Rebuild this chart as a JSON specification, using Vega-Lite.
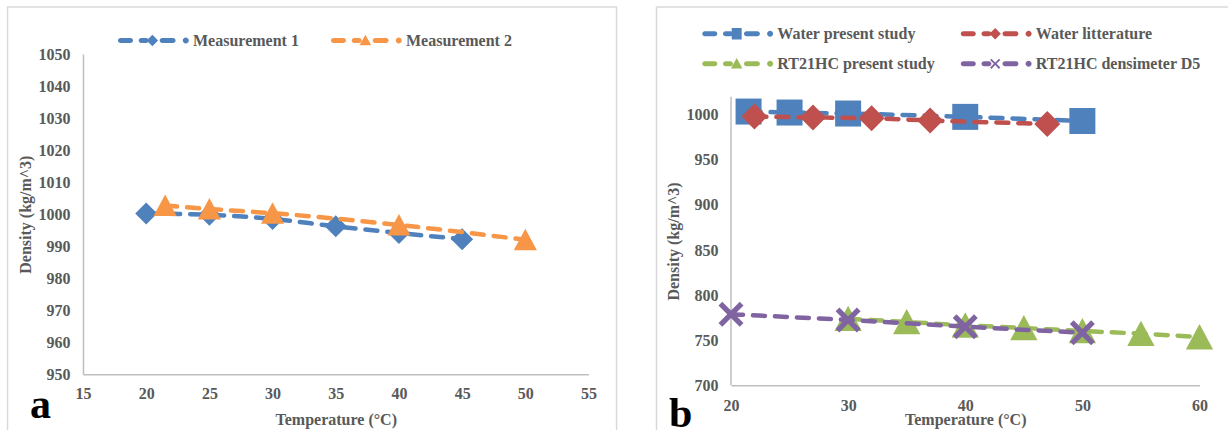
{
  "$schema": "https://vega.github.io/schema/vega-lite/v6.json",
  "background": "white",
  "padding": {"left": 6, "top": 6, "right": 0, "bottom": 0},
  "spacing": 37,
  "datasets": {
    "left": [
      {"series": "Measurement 1", "t": 20, "d": 1000.2},
      {"series": "Measurement 1", "t": 25, "d": 999.8},
      {"series": "Measurement 1", "t": 30, "d": 998.5},
      {"series": "Measurement 1", "t": 35, "d": 996.2},
      {"series": "Measurement 1", "t": 40, "d": 994.1},
      {"series": "Measurement 1", "t": 45, "d": 992.2},
      {"series": "Measurement 2", "t": 21.5, "d": 1002.7},
      {"series": "Measurement 2", "t": 25, "d": 1001.6},
      {"series": "Measurement 2", "t": 30, "d": 1000.3},
      {"series": "Measurement 2", "t": 40, "d": 996.6},
      {"series": "Measurement 2", "t": 50, "d": 992.0}
    ],
    "right": [
      {"series": "Water present study", "t": 21.5, "d": 1003.5},
      {"series": "Water present study", "t": 25, "d": 1002.4},
      {"series": "Water present study", "t": 30, "d": 1001.3},
      {"series": "Water present study", "t": 40, "d": 997.6},
      {"series": "Water present study", "t": 50, "d": 993.0},
      {"series": "Water litterature", "t": 22, "d": 998.0},
      {"series": "Water litterature", "t": 27, "d": 997.0},
      {"series": "Water litterature", "t": 32, "d": 996.0},
      {"series": "Water litterature", "t": 37, "d": 993.6},
      {"series": "Water litterature", "t": 47, "d": 989.8},
      {"series": "RT21HC present study", "t": 30, "d": 773.8},
      {"series": "RT21HC present study", "t": 35, "d": 770.2},
      {"series": "RT21HC present study", "t": 40, "d": 766.5},
      {"series": "RT21HC present study", "t": 45, "d": 763.5},
      {"series": "RT21HC present study", "t": 50, "d": 760.2},
      {"series": "RT21HC present study", "t": 55, "d": 757.2},
      {"series": "RT21HC present study", "t": 60, "d": 753.5},
      {"series": "RT21HC densimeter D5", "t": 20, "d": 778.7},
      {"series": "RT21HC densimeter D5", "t": 30, "d": 772.4},
      {"series": "RT21HC densimeter D5", "t": 40, "d": 765.0},
      {"series": "RT21HC densimeter D5", "t": 50, "d": 758.3}
    ]
  },
  "hconcat": [
    {
      "width": 505.5,
      "height": 320.3,
      "data": {"name": "left"},
      "encoding": {
        "x": {"field": "t", "type": "quantitative", "scale": {"domain": [15, 55], "nice": false, "zero": false},
              "axis": {"values": [15, 20, 25, 30, 35, 40, 45, 50, 55], "title": "Temperature (°C)", "labelPadding": 11, "titlePadding": 10}},
        "y": {"field": "d", "type": "quantitative", "scale": {"domain": [950, 1050], "nice": false, "zero": false},
              "axis": {"values": [950, 960, 970, 980, 990, 1000, 1010, 1020, 1030, 1040, 1050], "format": "d", "title": "Density (kg/m^3)", "labelPadding": 13, "titlePadding": 5}}
      },
      "layer": [
        {
          "transform": [{"aggregate": [{"op": "min", "field": "t", "as": "t"}, {"op": "min", "field": "d", "as": "d"}]}],
          "mark": {"type": "rect", "filled": false, "color": "#d9d9d9", "strokeWidth": 1.5},
          "encoding": {"x": {"datum": 9.03}, "x2": {"datum": 57.22}, "y": {"datum": 1064.67}, "y2": {"datum": 929.5}}
        },
        {
          "transform": [{"aggregate": [{"op": "min", "field": "t", "as": "t"}, {"op": "min", "field": "d", "as": "d"}]}],
          "mark": {"type": "text", "text": "a", "font": "Liberation Serif", "fontSize": 42, "fontWeight": "bold", "color": "black", "align": "center", "baseline": "alphabetic"},
          "encoding": {"x": {"datum": 11.64}, "y": {"datum": 936.26}}
        },
        {
          "transform": [{"filter": "false"}],
          "mark": {"type": "point", "filled": true, "opacity": 1},
          "encoding": {
            "color": {"field": "series", "type": "nominal",
              "scale": {"domain": ["Measurement 1", "Measurement 2"], "range": ["#4F81BD", "#F79646"]},
              "legend": {"title": null, "orient": "none", "legendX": 33, "legendY": -21.5, "direction": "horizontal", "columns": 2, "columnPadding": 30, "labelOffset": 61, "symbolSize": 144, "symbolStrokeWidth": 0, "symbolOpacity": 1, "padding": 0, "labelLimit": 0}},
            "shape": {"field": "series", "type": "nominal",
              "scale": {"domain": ["Measurement 1", "Measurement 2"], "range": [
                "M-0.58,-0.42H1.08A0.42,0.42,0,0,1,1.08,0.42H-0.58A0.42,0.42,0,0,1,-0.58,-0.42ZM2.87,-0.42H3.68A0.42,0.42,0,0,1,3.68,0.42H2.87A0.42,0.42,0,0,1,2.87,-0.42ZM6.37,-0.42H8.18A0.42,0.42,0,0,1,8.18,0.42H6.37A0.42,0.42,0,0,1,6.37,-0.42ZM9.8,0A0.5,0.5,0,1,1,10.8,0A0.5,0.5,0,1,1,9.8,0ZM4.73,-0.95L5.68,0L4.73,0.95L3.78,0Z",
                "M-0.58,-0.42H1.08A0.42,0.42,0,0,1,1.08,0.42H-0.58A0.42,0.42,0,0,1,-0.58,-0.42ZM2.87,-0.42H3.68A0.42,0.42,0,0,1,3.68,0.42H2.87A0.42,0.42,0,0,1,2.87,-0.42ZM6.37,-0.42H8.18A0.42,0.42,0,0,1,8.18,0.42H6.37A0.42,0.42,0,0,1,6.37,-0.42ZM9.8,0A0.5,0.5,0,1,1,10.8,0A0.5,0.5,0,1,1,9.8,0ZM4.73,-0.95L5.7,0.8L3.76,0.8Z"]},
              "legend": {"title": null, "orient": "none", "legendX": 33, "legendY": -21.5, "direction": "horizontal", "columns": 2, "columnPadding": 30, "labelOffset": 61, "symbolSize": 144, "symbolStrokeWidth": 0, "symbolOpacity": 1, "padding": 0, "labelLimit": 0}}
          }
        },
        {
          "transform": [{"filter": "datum.series === 'Measurement 1'"}],
          "layer": [
            {"mark": {"type": "line", "color": "#4F81BD", "strokeWidth": 4.5, "strokeDash": [12, 10], "strokeCap": "round", "interpolate": "monotone"}},
            {"mark": {"type": "point", "shape": "diamond", "filled": true, "color": "#4F81BD", "size": 484, "opacity": 1}}
          ]
        },
        {
          "transform": [{"filter": "datum.series === 'Measurement 2'"}],
          "layer": [
            {"mark": {"type": "line", "color": "#F79646", "strokeWidth": 4.5, "strokeDash": [12, 10], "strokeCap": "round", "interpolate": "monotone"}},
            {"mark": {"type": "point", "shape": "M0,-1L1.05,0.95L-1.05,0.95Z", "filled": true, "color": "#F79646", "size": 484, "opacity": 1}}
          ]
        }
      ]
    },
    {
      "width": 468.5,
      "height": 331.3,
      "data": {"name": "right"},
      "encoding": {
        "x": {"field": "t", "type": "quantitative", "scale": {"domain": [20, 60], "nice": false, "zero": false},
              "axis": {"values": [20, 30, 40, 50, 60], "title": "Temperature (°C)", "labelPadding": 12, "titlePadding": -2}},
        "y": {"field": "d", "type": "quantitative", "scale": {"domain": [700, 1067.3], "nice": false, "zero": false},
              "axis": {"values": [700, 750, 800, 850, 900, 950, 1000], "format": "d", "domain": false, "title": "Density (kg/m^3)", "titleY": 187, "labelPadding": 13, "titlePadding": 5}}
      },
      "layer": [
        {
          "transform": [{"aggregate": [{"op": "min", "field": "t", "as": "t"}, {"op": "min", "field": "d", "as": "d"}]}],
          "mark": {"type": "rect", "filled": false, "color": "#d9d9d9", "strokeWidth": 1.5},
          "encoding": {"x": {"datum": 13.64}, "x2": {"datum": 63.0}, "y": {"datum": 1119.4}, "y2": {"datum": 639.4}}
        },
        {
          "transform": [{"aggregate": [{"op": "min", "field": "t", "as": "t"}, {"op": "min", "field": "d", "as": "d"}]}],
          "mark": {"type": "rule", "color": "#bfbfbf", "strokeWidth": 1.5},
          "encoding": {"x": {"datum": 20}, "y": {"datum": 700}, "y2": {"datum": 1020}}
        },
        {
          "transform": [{"aggregate": [{"op": "min", "field": "t", "as": "t"}, {"op": "min", "field": "d", "as": "d"}]}],
          "mark": {"type": "text", "text": "b", "font": "Liberation Serif", "fontSize": 42, "fontWeight": "bold", "color": "black", "align": "center", "baseline": "alphabetic"},
          "encoding": {"x": {"datum": 15.71}, "y": {"datum": 654.1}}
        },
        {
          "transform": [{"filter": "false"}],
          "mark": {"type": "point", "filled": true, "opacity": 1},
          "encoding": {
            "color": {"field": "series", "type": "nominal",
              "scale": {"domain": ["Water present study", "Water litterature", "RT21HC present study", "RT21HC densimeter D5"], "range": ["#4F81BD", "#C0504D", "#9BBB59", "#8064A2"]},
              "legend": {"title": null, "orient": "none", "legendX": -30.7, "legendY": -28.2, "direction": "horizontal", "columns": 2, "columnPadding": 23.5, "rowPadding": 14, "labelOffset": 61, "symbolSize": 144, "symbolStrokeWidth": 0, "symbolOpacity": 1, "padding": 0, "labelLimit": 0}},
            "shape": {"field": "series", "type": "nominal",
              "scale": {"domain": ["Water present study", "Water litterature", "RT21HC present study", "RT21HC densimeter D5"], "range": [
                "M-0.58,-0.42H1.08A0.42,0.42,0,0,1,1.08,0.42H-0.58A0.42,0.42,0,0,1,-0.58,-0.42ZM2.87,-0.42H3.68A0.42,0.42,0,0,1,3.68,0.42H2.87A0.42,0.42,0,0,1,2.87,-0.42ZM6.37,-0.42H8.18A0.42,0.42,0,0,1,8.18,0.42H6.37A0.42,0.42,0,0,1,6.37,-0.42ZM9.8,0A0.5,0.5,0,1,1,10.8,0A0.5,0.5,0,1,1,9.8,0ZM3.9,-0.95H5.56V0.95H3.9Z",
                "M-0.58,-0.42H1.08A0.42,0.42,0,0,1,1.08,0.42H-0.58A0.42,0.42,0,0,1,-0.58,-0.42ZM2.87,-0.42H3.68A0.42,0.42,0,0,1,3.68,0.42H2.87A0.42,0.42,0,0,1,2.87,-0.42ZM6.37,-0.42H8.18A0.42,0.42,0,0,1,8.18,0.42H6.37A0.42,0.42,0,0,1,6.37,-0.42ZM9.8,0A0.5,0.5,0,1,1,10.8,0A0.5,0.5,0,1,1,9.8,0ZM4.73,-0.95L5.68,0L4.73,0.95L3.78,0Z",
                "M-0.58,-0.42H1.08A0.42,0.42,0,0,1,1.08,0.42H-0.58A0.42,0.42,0,0,1,-0.58,-0.42ZM2.87,-0.42H3.68A0.42,0.42,0,0,1,3.68,0.42H2.87A0.42,0.42,0,0,1,2.87,-0.42ZM6.37,-0.42H8.18A0.42,0.42,0,0,1,8.18,0.42H6.37A0.42,0.42,0,0,1,6.37,-0.42ZM9.8,0A0.5,0.5,0,1,1,10.8,0A0.5,0.5,0,1,1,9.8,0ZM4.73,-0.95L5.7,0.8L3.76,0.8Z",
                "M-0.58,-0.42H1.08A0.42,0.42,0,0,1,1.08,0.42H-0.58A0.42,0.42,0,0,1,-0.58,-0.42ZM2.87,-0.42H3.68A0.42,0.42,0,0,1,3.68,0.42H2.87A0.42,0.42,0,0,1,2.87,-0.42ZM6.37,-0.42H8.18A0.42,0.42,0,0,1,8.18,0.42H6.37A0.42,0.42,0,0,1,6.37,-0.42ZM9.8,0A0.5,0.5,0,1,1,10.8,0A0.5,0.5,0,1,1,9.8,0ZM3.88,-0.63L4.1,-0.85L4.73,-0.22L5.36,-0.85L5.58,-0.63L4.95,0L5.58,0.63L5.36,0.85L4.73,0.22L4.1,0.85L3.88,0.63L4.51,0Z"]},
              "legend": {"title": null, "orient": "none", "legendX": -30.7, "legendY": -28.2, "direction": "horizontal", "columns": 2, "columnPadding": 23.5, "rowPadding": 14, "labelOffset": 61, "symbolSize": 144, "symbolStrokeWidth": 0, "symbolOpacity": 1, "padding": 0, "labelLimit": 0}}
          }
        },
        {
          "transform": [{"filter": "datum.series === 'Water present study'"}],
          "layer": [
            {"mark": {"type": "line", "color": "#4F81BD", "strokeWidth": 4.5, "strokeDash": [12, 10], "strokeCap": "round", "interpolate": "monotone"}},
            {"mark": {"type": "point", "shape": "square", "filled": true, "color": "#4F81BD", "size": 676, "opacity": 1}}
          ]
        },
        {
          "transform": [{"filter": "datum.series === 'Water litterature'"}],
          "layer": [
            {"mark": {"type": "line", "color": "#C0504D", "strokeWidth": 4.5, "strokeDash": [12, 10], "strokeCap": "round", "interpolate": "monotone"}},
            {"mark": {"type": "point", "shape": "diamond", "filled": true, "color": "#C0504D", "size": 676, "opacity": 1}}
          ]
        },
        {
          "transform": [{"filter": "datum.series === 'RT21HC present study'"}],
          "layer": [
            {"mark": {"type": "line", "color": "#9BBB59", "strokeWidth": 4.5, "strokeDash": [12, 10], "strokeCap": "round", "interpolate": "monotone"}},
            {"mark": {"type": "point", "shape": "M0,-1L1.05,0.95L-1.05,0.95Z", "filled": true, "color": "#9BBB59", "size": 676, "opacity": 1}}
          ]
        },
        {
          "transform": [{"filter": "datum.series === 'RT21HC densimeter D5'"}],
          "layer": [
            {"mark": {"type": "line", "color": "#8064A2", "strokeWidth": 4.5, "strokeDash": [12, 10], "strokeCap": "round", "interpolate": "monotone"}},
            {"mark": {"type": "point", "shape": "M-1,-0.7L-0.7,-1L0,-0.3L0.7,-1L1,-0.7L0.3,0L1,0.7L0.7,1L0,0.3L-0.7,1L-1,0.7L-0.3,0Z", "filled": true, "color": "#8064A2", "size": 625, "opacity": 1}}
          ]
        }
      ]
    }
  ],
  "resolve": {"scale": {"color": "independent", "shape": "independent", "x": "independent", "y": "independent"}, "legend": {"color": "independent", "shape": "independent"}},
  "config": {
    "view": {"stroke": null},
    "font": "Liberation Serif",
    "axis": {
      "labelFont": "Liberation Serif", "labelFontSize": 16, "labelFontWeight": "bold", "labelColor": "#595959",
      "titleFont": "Liberation Serif", "titleFontSize": 16, "titleFontWeight": "bold", "titleColor": "#595959",
      "domainColor": "#bfbfbf", "domainWidth": 1.5, "ticks": false, "grid": false, "labelFlush": false, "labelOverlap": false
    },
    "legend": {
      "labelFont": "Liberation Serif", "labelFontSize": 16, "labelFontWeight": "bold", "labelColor": "#595959"
    }
  }
}
